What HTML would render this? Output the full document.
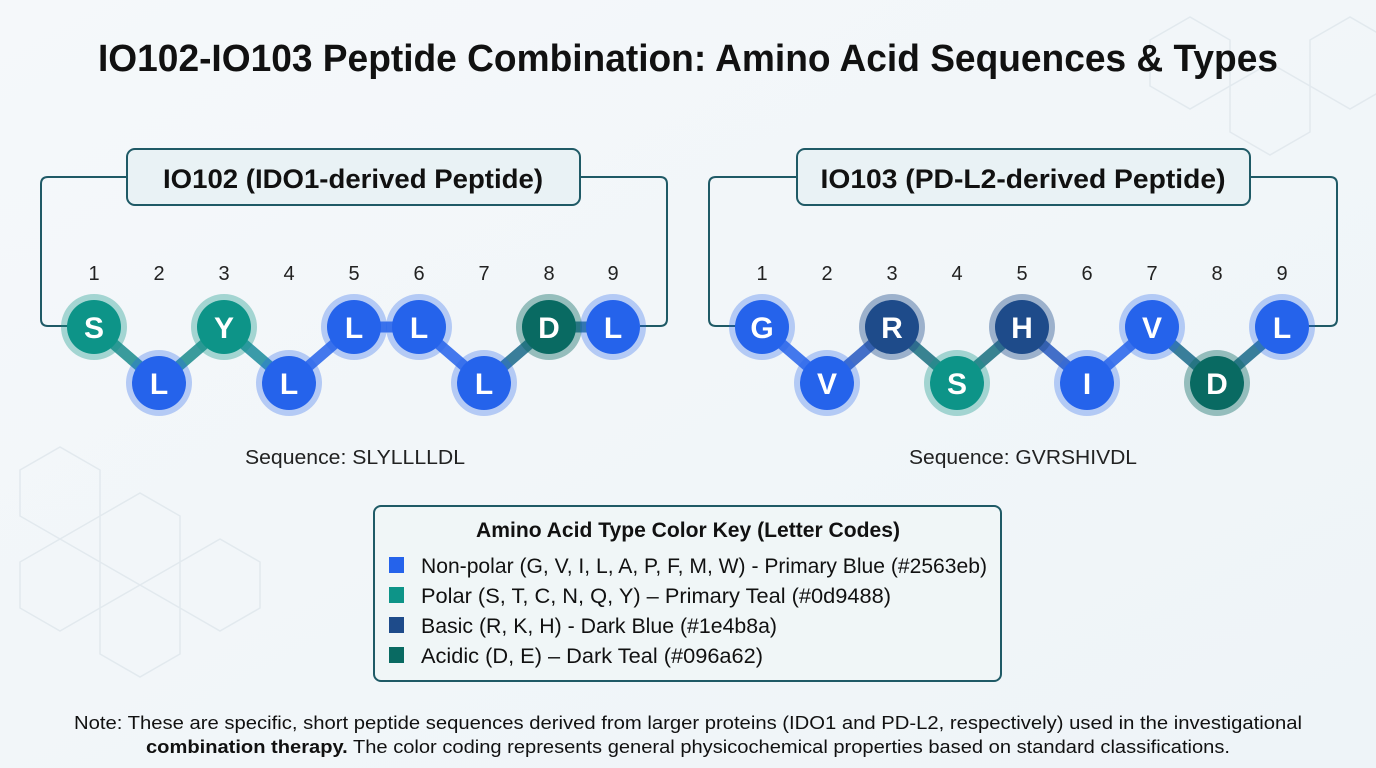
<!DOCTYPE html>
<html><head><meta charset="utf-8"><style>
html,body{margin:0;padding:0;background:#f1f6f9;}
svg{display:block;font-family:"Liberation Sans",sans-serif;}
</style></head><body>
<svg width="1376" height="768" viewBox="0 0 1376 768">
<defs>
<linearGradient id="bg" x1="0" y1="0" x2="1" y2="1"><stop offset="0" stop-color="#f5f8fa"/><stop offset="1" stop-color="#eef4f8"/></linearGradient>
</defs>
<rect width="1376" height="768" fill="url(#bg)"/>
<g fill="none" stroke="#e2e9ee" stroke-width="1.5">
<path d="M1150 40 l40 -23 l40 23 v46 l-40 23 l-40 -23z M1230 86 l40 -23 l40 23 v46 l-40 23 l-40 -23z M1310 40 l40 -23 l40 23 v46 l-40 23 l-40 -23z"/>
<path d="M20 470 l40 -23 l40 23 v46 l-40 23 l-40 -23z M100 516 l40 -23 l40 23 v46 l-40 23 l-40 -23z M20 562 l40 -23 l40 23 v46 l-40 23 l-40 -23z M180 562 l40 -23 l40 23 v46 l-40 23 l-40 -23z M100 608 l40 -23 l40 23 v46 l-40 23 l-40 -23z"/>
</g>
<text x="688" y="71" text-anchor="middle" font-size="38" font-weight="bold" fill="#111" textLength="1180" lengthAdjust="spacingAndGlyphs">IO102-IO103 Peptide Combination: Amino Acid Sequences &amp; Types</text>

<g fill="none" stroke="#1f5a66" stroke-width="2">
<path d="M127 177 H48 q-7 0 -7 7 V319 q0 7 7 7 H70"/>
<path d="M580 177 H660 q7 0 7 7 V319 q0 7 -7 7 H640"/>
<path d="M797 177 H716 q-7 0 -7 7 V319 q0 7 7 7 H740"/>
<path d="M1250 177 H1330 q7 0 7 7 V319 q0 7 -7 7 H1305"/>
</g>
<rect x="127" y="149" width="453" height="56" rx="8" fill="#e9f2f5" stroke="#1f5a66" stroke-width="2"/>
<text x="353" y="188" text-anchor="middle" font-size="27" font-weight="bold" fill="#111" textLength="380" lengthAdjust="spacingAndGlyphs">IO102 (IDO1-derived Peptide)</text>
<rect x="797" y="149" width="453" height="56" rx="8" fill="#e9f2f5" stroke="#1f5a66" stroke-width="2"/>
<text x="1023" y="188" text-anchor="middle" font-size="27" font-weight="bold" fill="#111" textLength="405" lengthAdjust="spacingAndGlyphs">IO103 (PD-L2-derived Peptide)</text>

<g font-size="20" fill="#222" text-anchor="middle">
<text x="94" y="280">1</text><text x="159" y="280">2</text><text x="224" y="280">3</text><text x="289" y="280">4</text><text x="354" y="280">5</text><text x="419" y="280">6</text><text x="484" y="280">7</text><text x="549" y="280">8</text><text x="613" y="280">9</text>
<text x="762" y="280">1</text><text x="827" y="280">2</text><text x="892" y="280">3</text><text x="957" y="280">4</text><text x="1022" y="280">5</text><text x="1087" y="280">6</text><text x="1152" y="280">7</text><text x="1217" y="280">8</text><text x="1282" y="280">9</text>
</g>

<!-- connectors -->
<g stroke-width="11" stroke-linecap="round" opacity="0.85">
<line x1="94" y1="327" x2="159" y2="383" stroke="#1a8c8c"/>
<line x1="159" y1="383" x2="224" y2="327" stroke="#1a8c8c"/>
<line x1="224" y1="327" x2="289" y2="383" stroke="#1a8c9c"/>
<line x1="289" y1="383" x2="354" y2="327" stroke="#2563eb"/>
<line x1="354" y1="327" x2="419" y2="327" stroke="#2563eb"/>
<line x1="419" y1="327" x2="484" y2="383" stroke="#2563eb"/>
<line x1="484" y1="383" x2="549" y2="327" stroke="#1a6a8a"/>
<line x1="549" y1="327" x2="613" y2="327" stroke="#1a6a8a"/>
<line x1="762" y1="327" x2="827" y2="383" stroke="#2563eb"/>
<line x1="827" y1="383" x2="892" y2="327" stroke="#2558c0"/>
<line x1="892" y1="327" x2="957" y2="383" stroke="#1a7080"/>
<line x1="957" y1="383" x2="1022" y2="327" stroke="#1a7080"/>
<line x1="1022" y1="327" x2="1087" y2="383" stroke="#2558c0"/>
<line x1="1087" y1="383" x2="1152" y2="327" stroke="#2563eb"/>
<line x1="1152" y1="327" x2="1217" y2="383" stroke="#1a6a8a"/>
<line x1="1217" y1="383" x2="1282" y2="327" stroke="#1a6a8a"/>
</g>

<g font-size="30" font-weight="bold" fill="#fff" text-anchor="middle">
<!-- left -->
<circle cx="94" cy="327" r="33" fill="#0d9488" opacity="0.35"/><circle cx="94" cy="327" r="27" fill="#0d9488"/><text x="94" y="338">S</text>
<circle cx="159" cy="383" r="33" fill="#2563eb" opacity="0.3"/><circle cx="159" cy="383" r="27" fill="#2563eb"/><text x="159" y="394">L</text>
<circle cx="224" cy="327" r="33" fill="#0d9488" opacity="0.35"/><circle cx="224" cy="327" r="27" fill="#0d9488"/><text x="224" y="338">Y</text>
<circle cx="289" cy="383" r="33" fill="#2563eb" opacity="0.3"/><circle cx="289" cy="383" r="27" fill="#2563eb"/><text x="289" y="394">L</text>
<circle cx="354" cy="327" r="33" fill="#2563eb" opacity="0.3"/><circle cx="354" cy="327" r="27" fill="#2563eb"/><text x="354" y="338">L</text>
<circle cx="419" cy="327" r="33" fill="#2563eb" opacity="0.3"/><circle cx="419" cy="327" r="27" fill="#2563eb"/><text x="419" y="338">L</text>
<circle cx="484" cy="383" r="33" fill="#2563eb" opacity="0.3"/><circle cx="484" cy="383" r="27" fill="#2563eb"/><text x="484" y="394">L</text>
<circle cx="549" cy="327" r="33" fill="#096a62" opacity="0.4"/><circle cx="549" cy="327" r="27" fill="#096a62"/><text x="549" y="338">D</text>
<circle cx="613" cy="327" r="33" fill="#2563eb" opacity="0.3"/><circle cx="613" cy="327" r="27" fill="#2563eb"/><text x="613" y="338">L</text>
<!-- right -->
<circle cx="762" cy="327" r="33" fill="#2563eb" opacity="0.3"/><circle cx="762" cy="327" r="27" fill="#2563eb"/><text x="762" y="338">G</text>
<circle cx="827" cy="383" r="33" fill="#2563eb" opacity="0.3"/><circle cx="827" cy="383" r="27" fill="#2563eb"/><text x="827" y="394">V</text>
<circle cx="892" cy="327" r="33" fill="#1e4b8a" opacity="0.4"/><circle cx="892" cy="327" r="27" fill="#1e4b8a"/><text x="892" y="338">R</text>
<circle cx="957" cy="383" r="33" fill="#0d9488" opacity="0.35"/><circle cx="957" cy="383" r="27" fill="#0d9488"/><text x="957" y="394">S</text>
<circle cx="1022" cy="327" r="33" fill="#1e4b8a" opacity="0.4"/><circle cx="1022" cy="327" r="27" fill="#1e4b8a"/><text x="1022" y="338">H</text>
<circle cx="1087" cy="383" r="33" fill="#2563eb" opacity="0.3"/><circle cx="1087" cy="383" r="27" fill="#2563eb"/><text x="1087" y="394">I</text>
<circle cx="1152" cy="327" r="33" fill="#2563eb" opacity="0.3"/><circle cx="1152" cy="327" r="27" fill="#2563eb"/><text x="1152" y="338">V</text>
<circle cx="1217" cy="383" r="33" fill="#096a62" opacity="0.4"/><circle cx="1217" cy="383" r="27" fill="#096a62"/><text x="1217" y="394">D</text>
<circle cx="1282" cy="327" r="33" fill="#2563eb" opacity="0.3"/><circle cx="1282" cy="327" r="27" fill="#2563eb"/><text x="1282" y="338">L</text>
</g>

<text x="355" y="464" text-anchor="middle" font-size="20" fill="#222" textLength="220" lengthAdjust="spacingAndGlyphs">Sequence: SLYLLLLDL</text>
<text x="1023" y="464" text-anchor="middle" font-size="20" fill="#222" textLength="228" lengthAdjust="spacingAndGlyphs">Sequence: GVRSHIVDL</text>

<rect x="374" y="506" width="627" height="175" rx="7" fill="#f0f6f7" stroke="#1f5a66" stroke-width="2"/>
<text x="688" y="537" text-anchor="middle" font-size="21" font-weight="bold" fill="#111" textLength="424" lengthAdjust="spacingAndGlyphs">Amino Acid Type Color Key (Letter Codes)</text>
<rect x="389" y="557" width="15" height="16" fill="#2563eb"/>
<rect x="389" y="587" width="15" height="16" fill="#0d9488"/>
<rect x="389" y="617" width="15" height="16" fill="#1e4b8a"/>
<rect x="389" y="647" width="15" height="16" fill="#096a62"/>
<g font-size="21" fill="#111">
<text x="421" y="573" textLength="566" lengthAdjust="spacingAndGlyphs">Non-polar (G, V, I, L, A, P, F, M, W) - Primary Blue (#2563eb)</text>
<text x="421" y="603" textLength="470" lengthAdjust="spacingAndGlyphs">Polar (S, T, C, N, Q, Y) – Primary Teal (#0d9488)</text>
<text x="421" y="633" textLength="356" lengthAdjust="spacingAndGlyphs">Basic (R, K, H) - Dark Blue (#1e4b8a)</text>
<text x="421" y="663" textLength="342" lengthAdjust="spacingAndGlyphs">Acidic (D, E) – Dark Teal (#096a62)</text>
</g>
<g font-size="18" fill="#111" text-anchor="middle">
<text x="688" y="729" textLength="1228" lengthAdjust="spacingAndGlyphs">Note: These are specific, short peptide sequences derived from larger proteins (IDO1 and PD-L2, respectively) used in the investigational</text>
<text x="688" y="753" textLength="1084" lengthAdjust="spacingAndGlyphs"><tspan font-weight="bold">combination therapy.</tspan> The color coding represents general physicochemical properties based on standard classifications.</text>
</g>
</svg>
</body></html>
